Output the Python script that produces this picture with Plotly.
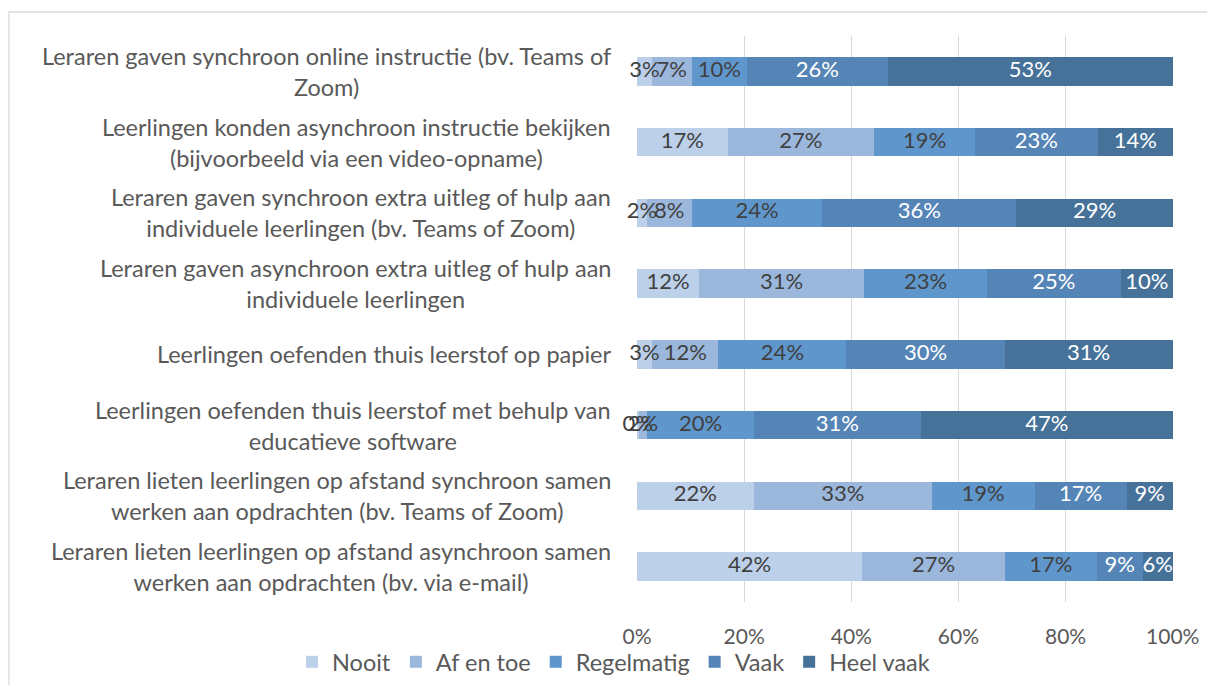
import plotly.graph_objects as go

categories = [
    "Leraren gaven synchroon online instructie (bv. Teams of<br>Zoom)",
    "Leerlingen konden asynchroon instructie bekijken<br>(bijvoorbeeld via een video-opname)",
    "Leraren gaven synchroon extra uitleg of hulp aan<br>individuele leerlingen (bv. Teams of Zoom)",
    "Leraren gaven asynchroon extra uitleg of hulp aan<br>individuele leerlingen",
    "Leerlingen oefenden thuis leerstof op papier",
    "Leerlingen oefenden thuis leerstof met behulp van<br>educatieve software",
    "Leraren lieten leerlingen op afstand synchroon samen<br>werken aan opdrachten (bv. Teams of Zoom)",
    "Leraren lieten leerlingen op afstand asynchroon samen<br>werken aan opdrachten (bv. via e-mail)",
]

series_names = ["Nooit", "Af en toe", "Regelmatig", "Vaak", "Heel vaak"]

nooit      = [2.8, 16.9, 1.8, 11.6, 2.8, 0.3, 21.8, 42.0]
af_en_toe  = [7.4, 27.4, 8.4, 30.8, 12.4, 1.6, 33.2, 26.7]
regelmatig = [10.3, 18.8, 24.4, 22.9, 23.9, 19.9, 19.2, 17.1]
vaak       = [26.3, 22.9, 36.2, 25.0, 29.5, 31.2, 17.2, 8.6]
heel_vaak  = [53.2, 14.0, 29.2, 9.7, 31.4, 47.0, 8.6, 5.6]

x_tickvals = [0, 20, 40, 60, 80, 100]
x_ticktext = ["0%", "20%", "40%", "60%", "80%", "100%"]

colors = ["#BDD0E9", "#9BB7DC", "#5F97CD", "#5585B6", "#467299"]
text_colors = ["#404040", "#404040", "#404040", "#FFFFFF", "#FFFFFF"]

FONT = "Lato"
FS_LABEL = 23.5
FS_DATA = 22
FS_TICK = 21

series = [nooit, af_en_toe, regelmatig, vaak, heel_vaak]

fig = go.Figure()
for name, vals, col in zip(series_names, series, colors):
    fig.add_trace(go.Bar(
        y=categories, x=vals, name=name, orientation="h",
        marker=dict(color=col, line=dict(width=0)),
        hoverinfo="skip",
    ))

# data labels drawn on top of all bars (as in the original), at segment centres
base = [0.0] * len(categories)
for name, vals, tcol in zip(series_names, series, text_colors):
    mids = [b + v / 2 for b, v in zip(base, vals)]
    fig.add_trace(go.Scatter(
        y=categories, x=mids, mode="text",
        text=[f"{v:.0f}%" for v in vals],
        textposition="middle center",
        textfont=dict(family=FONT, size=FS_DATA, color=tcol),
        showlegend=False, hoverinfo="skip", cliponaxis=False,
    ))
    base = [b + v for b, v in zip(base, vals)]

# page offset (body margin) compensation
OFF = 8
W, H = 1199, 677
PX0, PX1 = 637, 1173   # plot area x in screenshot
PY0, PY1 = 36, 602     # plot area y in screenshot
L, T = PX0 - OFF, PY0 - OFF
R = W - L - (PX1 - PX0)
B = H - T - (PY1 - PY0)

def px_x(p):
    return (p - PX0) / (PX1 - PX0)

def px_y(p):
    return (PY1 - p) / (PY1 - PY0)

for c in categories:
    fig.add_annotation(
        x=px_x(613), xref="paper", y=c, yref="y",
        text=c, showarrow=False, xanchor="right", yanchor="middle",
        align="center", font=dict(family=FONT, size=FS_LABEL, color="#595959"),
    )

fig.add_shape(type="rect", xref="paper", yref="paper",
              x0=px_x(9), x1=px_x(1240), y0=px_y(720), y1=px_y(12),
              line=dict(color="#D9D9D9", width=1.3), layer="below")

fig.update_layout(
    width=W, height=H,
    margin=dict(l=L, r=R, t=T, b=B, autoexpand=False),
    barmode="stack", bargap=0.6,
    plot_bgcolor="white", paper_bgcolor="white",
    font=dict(family=FONT, size=FS_TICK, color="#595959"),
    xaxis=dict(range=[0, 100.05], tickvals=x_tickvals, ticktext=x_ticktext,
               showgrid=True, gridcolor="#D9D9D9", gridwidth=1.3,
               zeroline=False, ticklabelstandoff=20,
               tickfont=dict(family=FONT, size=FS_TICK, color="#595959")),
    yaxis=dict(autorange="reversed", showticklabels=False, showgrid=False),
    legend=dict(orientation="h",
                xref="paper", x=px_x(292), xanchor="left",
                yref="paper", y=px_y(640), yanchor="top",
                bgcolor="rgba(0,0,0,0)",
                font=dict(family=FONT, size=FS_LABEL, color="#595959"),
                traceorder="normal", itemclick=False),
    showlegend=True,
)

fig.write_html("out.html")
